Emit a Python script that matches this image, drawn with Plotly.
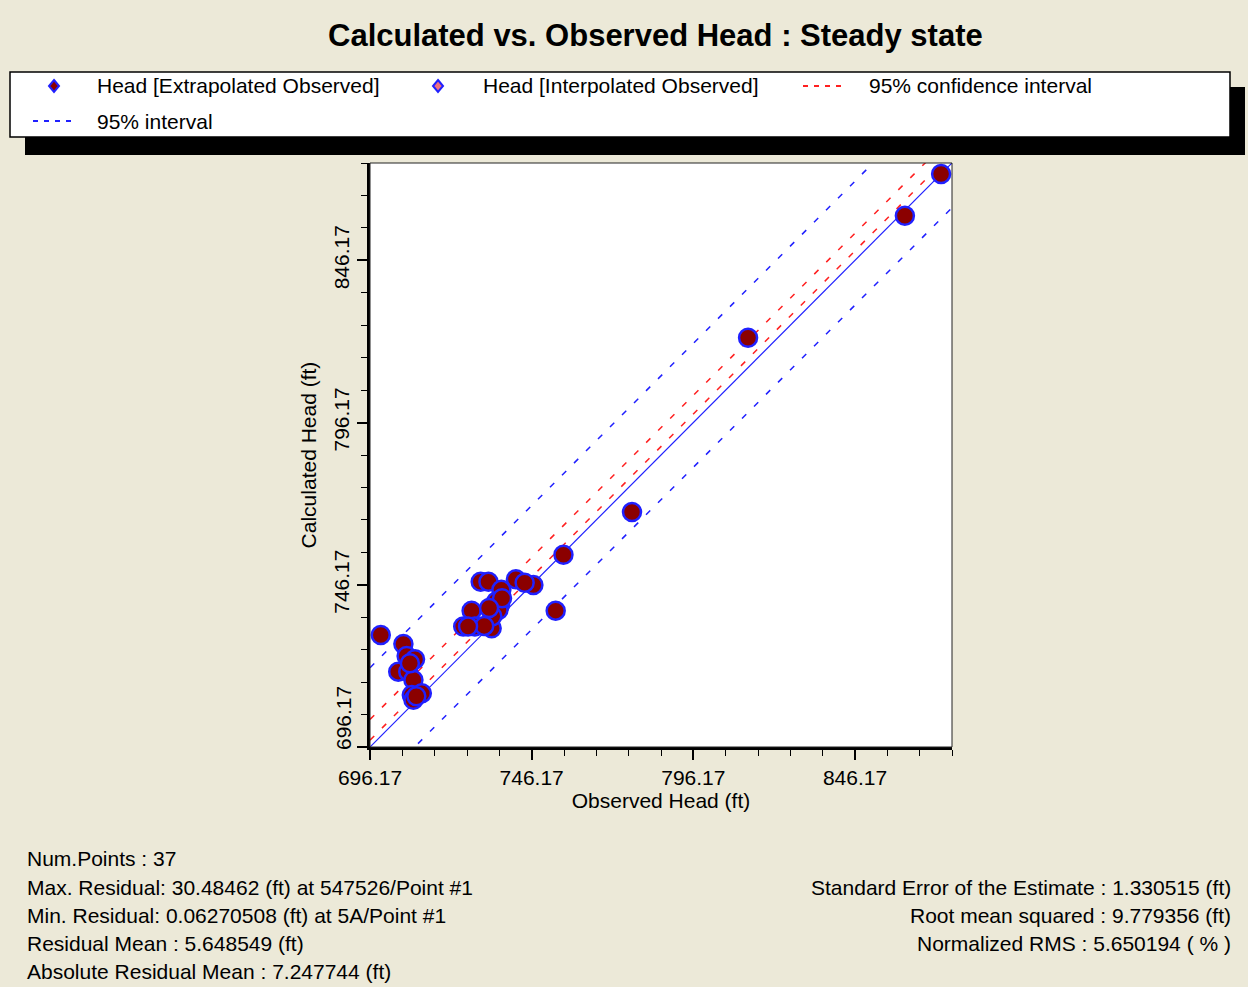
import plotly.graph_objects as go

# ---------------- data ----------------
observed = [872.8, 861.6, 813.1, 777.2, 756.0, 753.6,
            746.7, 741.3, 730.4, 732.8, 736.8, 727.6, 735.2, 736.4, 734.8, 735.9,
            725.0, 728.6, 733.8, 744.0,
            699.5, 706.5, 707.5, 710.1, 704.9, 708.0, 709.6, 709.1, 712.2, 709.6,
            708.5, 710.5, 734.0, 731.5, 737.0, 726.5, 733.0]
calculated = [872.8, 859.9, 822.3, 768.6, 755.4, 738.2,
              746.1, 747.9, 747.1, 747.1, 744.6, 738.2, 741.0, 740.0, 738.4, 738.4,
              733.3, 733.3, 732.8, 746.8,
              730.7, 727.9, 724.2, 723.2, 719.4, 719.4, 716.8, 712.2, 712.7, 710.7,
              722.0, 711.8, 736.5, 733.5, 742.0, 733.3, 739.0]

line_x = [696.17, 876.17]
ideal_y = [696.17, 876.17]
conf_upper_y = [704.67, 884.47]
conf_lower_y = [698.27, 879.27]
interval_upper_y = [720.57, 900.57]
interval_lower_y = [682.37, 862.37]

axis_range = [696.17, 876.17]
tick_values = [696.17, 746.17, 796.17, 846.17]
tick_labels = ["696.17", "746.17", "796.17", "846.17"]
tick_start = 696.17
minor_step = 10

title_text = "Calculated vs. Observed Head : Steady state"
x_title = "Observed Head (ft)"
y_title = "Calculated Head (ft)"
legend_labels = ["Head [Extrapolated Observed]", "Head [Interpolated Observed]",
                 "95% confidence interval", "95% interval"]
stats_left = ["Num.Points : 37",
              "Max. Residual: 30.48462 (ft) at 547526/Point #1",
              "Min. Residual: 0.06270508 (ft) at 5A/Point #1",
              "Residual Mean : 5.648549 (ft)",
              "Absolute Residual Mean : 7.247744 (ft)"]
stats_right = ["Standard Error of the Estimate : 1.330515 (ft)",
               "Root mean squared : 9.779356 (ft)",
               "Normalized RMS : 5.650194 ( % )"]

# ---------------- layout geometry ----------------
W, H = 1248, 987
L, R, T, B = 370, 952, 163, 747
BG = "#ECE9D8"
FONT = "Liberation Sans, Arial, sans-serif"
DARKRED = "#8B0000"
BLUE = "#2020FF"
RED = "#FF2020"


def px(x):
    return (x - L) / (R - L)


def py(y):
    return (B - y) / (B - T)


fig = go.Figure()

fig.add_trace(go.Scatter(x=line_x, y=ideal_y, mode="lines",
                         line=dict(color=BLUE, width=1.2), showlegend=False, hoverinfo="skip"))
for yy in (conf_upper_y, conf_lower_y):
    fig.add_trace(go.Scatter(x=line_x, y=yy, mode="lines",
                             line=dict(color=RED, width=1.5, dash="6px,11px"),
                             showlegend=False, hoverinfo="skip"))
for yy in (interval_upper_y, interval_lower_y):
    fig.add_trace(go.Scatter(x=line_x, y=yy, mode="lines",
                             line=dict(color=BLUE, width=1.5, dash="6px,11px"),
                             showlegend=False, hoverinfo="skip"))

fig.add_trace(go.Scatter(x=observed, y=calculated, mode="markers",
                         marker=dict(size=18, color=DARKRED, line=dict(color=BLUE, width=2.5)),
                         name=legend_labels[0], showlegend=False))

shapes = []
annotations = []

# plot border
shapes.append(dict(type="rect", xref="paper", yref="paper", x0=0, y0=0, x1=1, y1=1,
                   line=dict(color="#222222", width=1), layer="above"))

# legend box with shadow
shapes.append(dict(type="rect", xref="paper", yref="paper",
                   x0=px(25), x1=px(1245), y0=py(155), y1=py(87),
                   fillcolor="black", line=dict(width=0), layer="below"))
shapes.append(dict(type="rect", xref="paper", yref="paper",
                   x0=px(10), x1=px(1230), y0=py(137), y1=py(72),
                   fillcolor="white", line=dict(color="black", width=1.5), layer="below"))


def diamond(cx, cy, fill):
    d = "M {a},{b} L {c},{d} L {e},{f} L {g},{h} Z".format(
        a=px(cx), b=py(cy - 6), c=px(cx + 5), d=py(cy), e=px(cx), f=py(cy + 6), g=px(cx - 5), h=py(cy))
    return dict(type="path", xref="paper", yref="paper", path=d, fillcolor=fill,
                line=dict(color=BLUE, width=2), layer="above")


shapes.append(diamond(54, 86, DARKRED))
shapes.append(diamond(438, 86, "#F07080"))
shapes.append(dict(type="line", xref="paper", yref="paper", x0=px(803), x1=px(846), y0=py(86), y1=py(86),
                   line=dict(color=RED, width=2, dash="5px,6px"), layer="above"))
shapes.append(dict(type="line", xref="paper", yref="paper", x0=px(33), x1=px(76), y0=py(121), y1=py(121),
                   line=dict(color=BLUE, width=2, dash="5px,6px"), layer="above"))

legend_pos = [(95, 86), (481, 86), (867, 86), (95, 121)]
for lab, (lx, ly) in zip(legend_labels, legend_pos):
    annotations.append(dict(text=lab, xref="paper", yref="paper", x=px(lx), y=py(ly),
                            xanchor="left", yanchor="middle", showarrow=False,
                            font=dict(size=21, color="black", family=FONT)))

annotations.append(dict(text="<b>" + title_text + "</b>", xref="paper", yref="paper",
                        x=px(655), y=py(35), xanchor="center", yanchor="middle", showarrow=False,
                        font=dict(size=31, color="black", family=FONT)))

for i, s in enumerate(stats_left):
    annotations.append(dict(text=s, xref="paper", yref="paper", x=px(25), y=py(859 + 28 * i),
                            xanchor="left", yanchor="middle", showarrow=False,
                            font=dict(size=21, color="black", family=FONT)))
for i, s in enumerate(stats_right):
    annotations.append(dict(text=s, xref="paper", yref="paper", x=px(1233), y=py(887 + 28 * i),
                            xanchor="right", yanchor="middle", showarrow=False,
                            font=dict(size=21, color="black", family=FONT)))

# lowest y tick label sits raised above the corner, as in the original
annotations.append(dict(text=tick_labels[0], xref="paper", yref="paper", x=px(343), y=py(718),
                        xanchor="center", yanchor="middle", textangle=-90, showarrow=False,
                        font=dict(size=21, color="black", family=FONT)))

axis_common = dict(range=axis_range, tickvals=tick_values,
                   ticks="outside", ticklen=10, tickwidth=1.5, tickcolor="black",
                   showline=True, linecolor="black", linewidth=2.5, showgrid=False, zeroline=False,
                   tickfont=dict(size=21, color="black", family=FONT),
                   minor=dict(dtick=minor_step, tick0=tick_start, ticks="outside", ticklen=6,
                              tickwidth=1, tickcolor="black", showgrid=False))

fig.update_xaxes(**axis_common, ticktext=tick_labels,
                 title=dict(text=x_title, standoff=6, font=dict(size=21, color="black", family=FONT)))
fig.update_yaxes(**axis_common, tickangle=-90, ticktext=[""] + tick_labels[1:],
                 title=dict(text=y_title, standoff=8, font=dict(size=21, color="black", family=FONT)))

fig.update_layout(width=W, height=H, margin=dict(l=L, r=W - R, t=T, b=H - B, pad=0),
                  paper_bgcolor=BG, plot_bgcolor="white", showlegend=False,
                  shapes=shapes, annotations=annotations,
                  font=dict(family=FONT, color="black"))

fig.write_html("out.html", config={"displayModeBar": False},
               post_script="document.body.style.margin='0px';document.body.style.overflow='hidden';")
